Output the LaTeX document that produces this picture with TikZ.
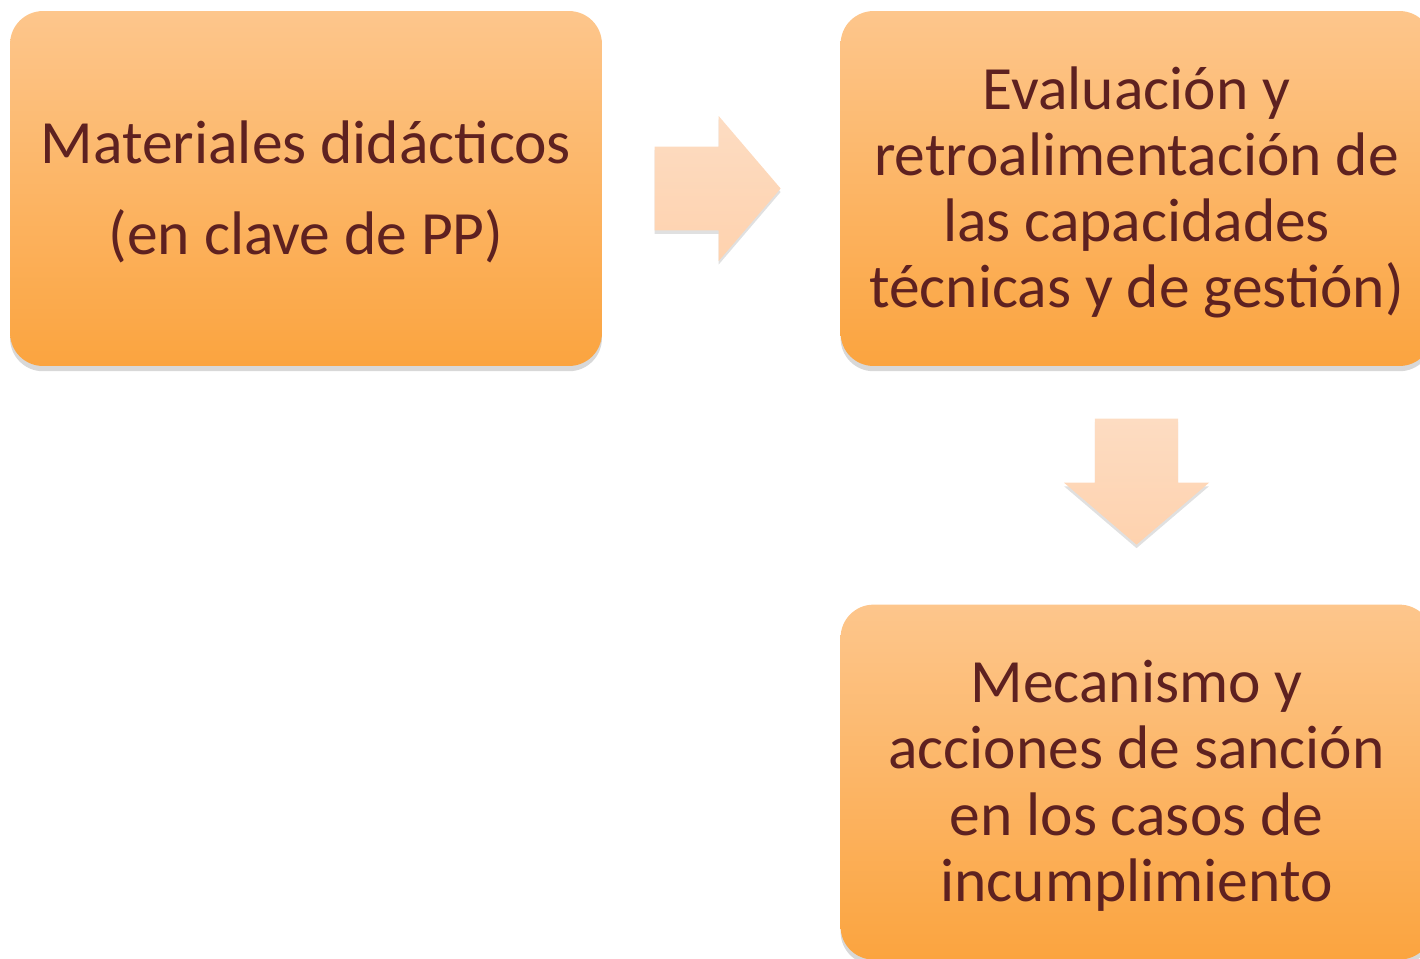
\documentclass[tikz,border=0pt]{standalone}
\usepackage{fontspec}
\setmainfont{Carlito}
\usetikzlibrary{positioning, shapes.arrows, shadows}

\definecolor{textbrown}{HTML}{5E2120}
\definecolor{boxtop}{HTML}{FDC68C}
\definecolor{boxbottom}{HTML}{FBA43F}
\definecolor{flowtop}{HTML}{FDDCC2}
\definecolor{flowbottom}{HTML}{FED2AE}

\begin{document}
\begin{tikzpicture}[x=0.02cm, y=-0.02cm,
    box/.style={rounded corners=0.66cm, minimum width=11.84cm, minimum height=7.1cm,
      top color=boxtop, bottom color=boxbottom, text=textbrown, align=center,
      font=\fontsize{35}{37.6}\selectfont, text depth=0.05cm,
      drop shadow={shadow xshift=0pt, shadow yshift=-3pt, opacity=0.22, fill=black!70}},
    flow/.style={single arrow, minimum height=2.52cm, minimum width=2.9cm,
      single arrow head extend=0.53cm, single arrow tip angle=99,
      inner xsep=0pt, inner ysep=0.72cm,
      top color=flowtop, bottom color=flowbottom,
      drop shadow={shadow xshift=0pt, shadow yshift=-2pt, opacity=0.12, fill=black}},
    node distance=4.76cm]
  \useasboundingbox (0,0) rectangle (1420,958);

  \node[box] (mat) at (306,188.5) {Materiales didácticos\\[14.2pt](en clave de PP)};
  \node[box, right=of mat] (eval) {Evaluación y\\retroalimentación de\\las capacidades\\técnicas y de gestión)};
  \node[box, below=of eval] (sanc) {Mecanismo y\\acciones de sanción\\en los casos de\\incumplimiento};

  \node[flow, right=1.04cm of mat] (a1) {};
  \node[flow, shape border rotate=270, inner xsep=0.71cm, inner ysep=0pt, below=1.04cm of eval] (a2) {};
\end{tikzpicture}
\end{document}
